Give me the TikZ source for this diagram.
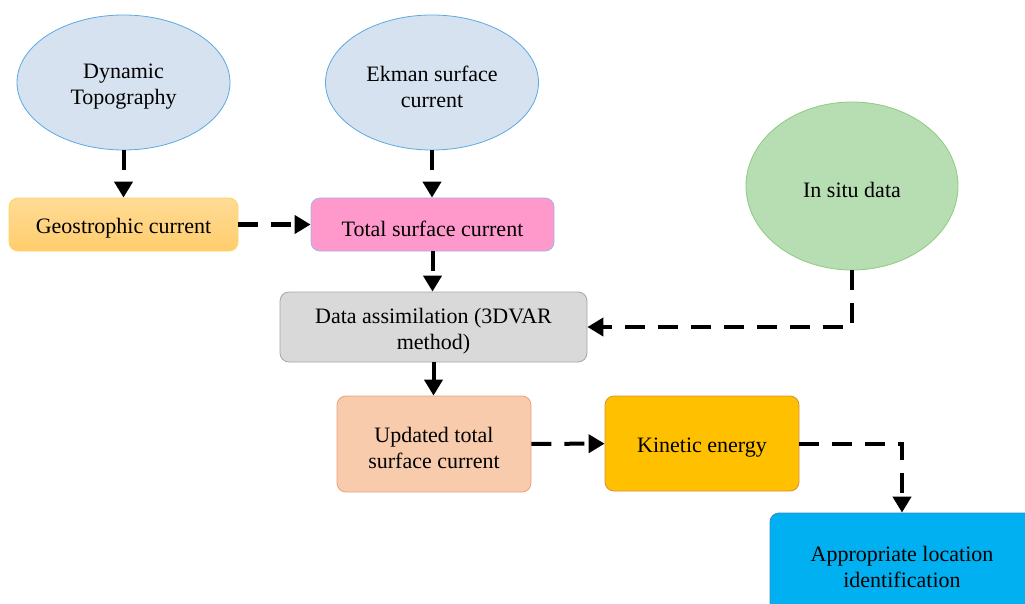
\documentclass[tikz,border=0pt]{standalone}
\usepackage{fontspec}
\setmainfont{Liberation Serif}
\usetikzlibrary{shapes.geometric,arrows.meta}
\definecolor{ellf}{HTML}{D6E2F0}
\definecolor{elld}{HTML}{5AA9E0}
\definecolor{insf}{HTML}{B7DDB2}
\definecolor{insd}{HTML}{8CCB80}
\definecolor{geot}{HTML}{FFDB96}
\definecolor{geob}{HTML}{FFCD6C}
\definecolor{geod}{HTML}{FFD466}
\definecolor{totf}{HTML}{FF99CC}
\definecolor{totd}{HTML}{9FB4E6}
\definecolor{daf}{HTML}{D9D9D9}
\definecolor{dad}{HTML}{A6A6A6}
\definecolor{upf}{HTML}{F8CBAD}
\definecolor{upd}{HTML}{E9A27A}
\definecolor{kef}{HTML}{FFC000}
\definecolor{ked}{HTML}{D98E3A}
\definecolor{apf}{HTML}{00B0F0}
\definecolor{apd}{HTML}{2E8BC8}
\begin{document}
\begin{tikzpicture}[x=1pt,y=-1pt,
  txt/.style={align=center,text=black,font=\rmfamily\fontsize{22}{26}\selectfont,inner sep=0pt,yshift=-4pt},
  ell/.style={ellipse,draw=elld,fill=ellf,line width=0.8pt,inner sep=0pt,minimum width=213pt,minimum height=135pt},
  box/.style={rectangle,rounded corners=9pt,line width=0.8pt,inner sep=0pt},
  conn/.style={line width=4pt,dash pattern=on 20pt off 13pt,-{Triangle[length=16pt,width=18pt]}}]
\clip (0,0) rectangle (1025,604);
\node[ell,label={[txt]center:Dynamic\\Topography}] (dt) at (123.5,82.5) {};
\node[ell,label={[txt]center:Ekman surface\\current}] (ek) at (432,82.5) {};
\node[ellipse,draw=insd,fill=insf,line width=0.8pt,inner sep=0pt,minimum width=212pt,minimum height=168pt,label={[txt]center:In situ data}] (is) at (852,186) {};
\node[box,draw=geod,top color=geot,bottom color=geob,minimum width=229pt,minimum height=53pt,label={[txt]center:Geostrophic current}] (geo) at (123.5,224.5) {};
\node[box,draw=totd,fill=totf,minimum width=243pt,minimum height=53pt,label={[txt]center:Total surface current}] (tot) at (432.5,224.5) {};
\node[box,draw=dad,fill=daf,minimum width=307pt,minimum height=70pt,label={[txt]center:Data assimilation (3DVAR\\method)}] (da) at (433.5,327) {};
\node[box,draw=upd,fill=upf,minimum width=194pt,minimum height=96pt,label={[txt]center:Updated total\\surface current}] (up) at (434,444) {};
\node[box,draw=ked,fill=kef,minimum width=194pt,minimum height=95pt,label={[txt]center:Kinetic energy}] (ke) at (702,443.5) {};
\node[box,draw=apd,fill=apf,minimum width=264pt,minimum height=100pt,label={[txt]center:Appropriate location\\identification}] (app) at (902,563) {};
\draw[conn] (dt) -- (geo);
\draw[conn] (ek.south) -- (ek.south |- tot.north);
\draw[conn] (geo) -- (tot);
\draw[conn] (tot.south) -- (tot.south |- da.north);
\draw[conn] (is.south) |- (da.east);
\draw[conn] (da.south) -- (da.south |- up.north);
\draw[conn] (up) -- (ke);
\draw[conn] (ke.east) -| (app.north);
\end{tikzpicture}
\end{document}
